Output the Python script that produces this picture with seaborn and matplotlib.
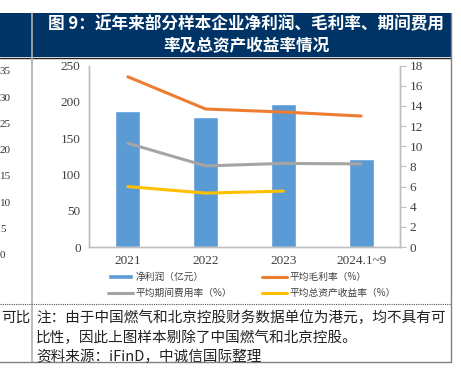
import matplotlib
matplotlib.use("Agg")
import matplotlib.pyplot as plt
import seaborn as sns
import numpy as np
import pandas as pd
from matplotlib.lines import Line2D
from matplotlib.patches import Rectangle, Patch

# 数据
years = ["2021", "2022", "2023", "2024.1~9"]
net_profit = [188, 179, 197.5, 121]          # 净利润（亿元）
gross_margin = [16.9, 13.7, 13.4, 13.0]      # 平均毛利率（%）
expense_rate = [10.3, 8.05, 8.3, 8.25]       # 平均期间费用率（%）
roa = [6.0, 5.35, 5.55, np.nan]              # 平均总资产收益率（%）
left_ticks = ["35", "30", "25", "20", "15", "10", "5", "0"]  # 左侧相邻图残留刻度

sns.set_theme(style="white")
plt.rcParams["font.family"] = ["Noto Sans CJK SC", "DejaVu Sans"]

W, H = 461, 380
fig = plt.figure(figsize=(W / 100, H / 100), dpi=100)

def fx(px):
    return px / W

def fy(py):
    return 1 - py / H

navy = "#003466"
# 标题栏
fig.patches.append(Rectangle((0, fy(57)), fx(451), (57 - 12.5) / H, transform=fig.transFigure,
                             facecolor=navy, edgecolor="none", zorder=0))
fig.text(fx(246), fy(24), "图 9：近年来部分样本企业净利润、毛利率、期间费用", color="white",
         fontsize=12, fontweight="bold", ha="center", va="center")
fig.text(fx(246), fy(46), "率及总资产收益率情况", color="white",
         fontsize=12, fontweight="bold", ha="center", va="center")

# 边框线
fig.add_artist(Line2D([fx(0), fx(451)], [fy(57.5), fy(57.5)], color="#222222", lw=1))
fig.add_artist(Line2D([fx(32), fx(32)], [fy(13), fy(362)], color="#b0b0b0", lw=1.2))
fig.add_artist(Line2D([fx(451), fx(451)], [fy(13), fy(362)], color="#808080", lw=1))
fig.add_artist(Line2D([fx(0), fx(451)], [fy(304), fy(304)], color="#555555", lw=0.8, ls=(0, (1, 1))))
fig.add_artist(Line2D([fx(0), fx(451)], [fy(362), fy(362)], color="#808080", lw=1))

# 左侧残留刻度
for i, t in enumerate(left_ticks):
    fig.text(fx(0), fy(72 + i * 26.2), t, fontsize=8, color="#333333", ha="left", va="center",
             family="Liberation Serif")
fig.text(fx(30), fy(318), "可比", fontsize=10.5, color="#222222", ha="right", va="center")

# 图表
ax = fig.add_axes([fx(89), fy(247), fx(400) - fx(89), (247 - 65.7) / H])
df = pd.DataFrame({"year": years, "profit": net_profit})
sns.barplot(data=df, x="year", y="profit", color="#5B9BD5", saturation=1, width=0.32, ax=ax)
ax.set_ylim(0, 250)
ax.set_yticks(range(0, 251, 50))
ax.set_xlim(-0.5, 3.5)
ax.set_xlabel("")
ax.set_ylabel("")

ax2 = ax.twinx()
xpos = np.arange(len(years))
line_df = pd.DataFrame({"x": xpos, "gm": gross_margin, "er": expense_rate, "roa": roa})
sns.lineplot(data=line_df, x="x", y="gm", color="#ED7D31", lw=2.2, ax=ax2)
sns.lineplot(data=line_df, x="x", y="er", color="#A5A5A5", lw=2.2, ax=ax2)
sns.lineplot(data=line_df.dropna(), x="x", y="roa", color="#FFC000", lw=2.2, ax=ax2)
ax2.set_ylim(0, 18)
ax2.set_yticks(range(0, 19, 2))
ax2.set_xlim(-0.5, 3.5)
ax2.set_xlabel("")
ax2.set_ylabel("")

for a in (ax, ax2):
    for s in a.spines.values():
        s.set_color("#BFBFBF")
        s.set_linewidth(1)
    a.spines["top"].set_visible(False)
    a.grid(False)
    for lab in a.get_xticklabels() + a.get_yticklabels():
        lab.set_family("Liberation Serif")
        lab.set_fontsize(9.5)
        lab.set_color("#404040")
ax.tick_params(axis="both", length=0, pad=6)
ax2.tick_params(axis="y", length=4, width=0.8, color="#BFBFBF", pad=3, direction="out")
ax2.tick_params(axis="x", length=0)

# 图例（按列填充：第一列 净利润/期间费用率，第二列 毛利率/总资产收益率）
handles = [Patch(facecolor="#5B9BD5"),
           Line2D([], [], color="#A5A5A5", lw=2.2),
           Line2D([], [], color="#ED7D31", lw=2.2),
           Line2D([], [], color="#FFC000", lw=2.2)]
labels = ["净利润（亿元）", "平均期间费用率（%）", "平均毛利率（%）", "平均总资产收益率（%）"]
fig.legend(handles, labels, ncol=2, loc="center", bbox_to_anchor=(fx(252), fy(285)),
           frameon=False, fontsize=7, labelcolor="#404040", handlelength=2.6,
           handleheight=0.5, columnspacing=3, handletextpad=0.3, labelspacing=0.6)

# 注释
notes = ["注：由于中国燃气和北京控股财务数据单位为港元，均不具有可",
         "比性，因此上图样本剔除了中国燃气和北京控股。",
         "资料来源：iFinD，中诚信国际整理"]
for i, t in enumerate(notes):
    fig.text(fx(36), fy(318 + i * 19.5), t, fontsize=10.5, color="#222222", ha="left", va="center")

fig.savefig("out.png", dpi=100)
